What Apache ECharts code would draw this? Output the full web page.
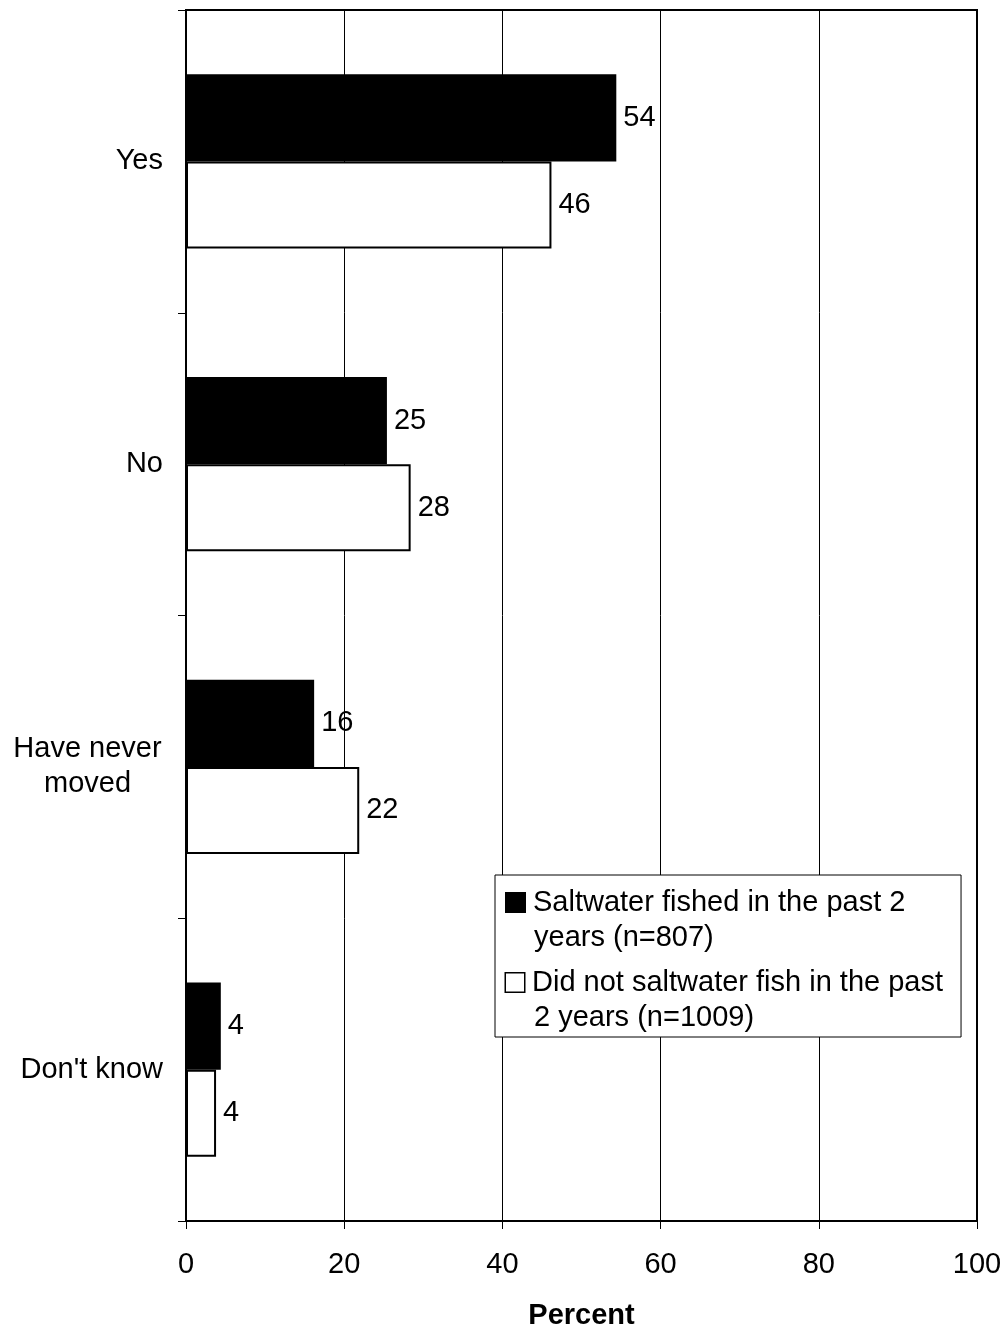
<!DOCTYPE html>
<html><head><meta charset="utf-8">
<script src="https://cdn.jsdelivr.net/npm/echarts@6/dist/echarts.min.js"></script>
<style>html,body{margin:0;padding:0;background:#fff}#c{width:1008px;height:1330px}</style>
</head><body><div id="c"></div>
<script>
const categories = ["Yes", "No", "Have never moved", "Don't know"];
const fishedValues = [54.4, 25.4, 16.2, 4.4];
const notFishedValues = [46.2, 28.4, 21.9, 3.8];
const seriesNames = ["Saltwater fished in the past 2 years (n=807)", "Did not saltwater fish in the past 2 years (n=1009)"];
const xTicks = [0, 20, 40, 60, 80, 100];
const FONT = '"Liberation Sans", Arial, sans-serif';
const FS = 29;

const chart = echarts.init(document.getElementById('c'), null, {renderer: 'canvas'});
chart.setOption({
  animation: false,
  backgroundColor: '#fff',
  textStyle: {fontFamily: FONT},
  grid: {left: 186, top: 10, right: 31, bottom: 109, containLabel: false, outerBoundsMode: 'none',
    show: true, borderColor: '#000', borderWidth: 2, backgroundColor: 'transparent'},
  legend: {
    left: 495, top: 875,
    orient: 'vertical',
    backgroundColor: '#fff', borderColor: '#000', borderWidth: 1,
    padding: [10, 18, 2, 5],
    itemWidth: 0, itemHeight: 0, itemGap: 10,
    icon: 'rect',
    formatter: function (name) {
      if (name === seriesNames[0]) return '{bk|}{g|}{t|Saltwater fished in the past 2}\n{sp|}{t|years (n=807)}';
      return '{wh|}{g|}{t|Did not saltwater fish in the past}\n{sp|}{t|2 years (n=1009)}';
    },
    textStyle: {
      fontFamily: FONT, fontSize: FS, color: '#000', lineHeight: 35,
      rich: {
        t: {fontFamily: FONT, fontSize: FS, color: '#000', lineHeight: 35},
        bk: {width: 19, height: 19, backgroundColor: '#000', borderColor: '#000', borderWidth: 1, lineHeight: 35},
        wh: {width: 18, height: 18, backgroundColor: '#fff', borderColor: '#000', borderWidth: 1.5, lineHeight: 35},
        g: {width: 8, lineHeight: 35},
        sp: {width: 28, lineHeight: 35}
      }
    },
    data: seriesNames
  },
  xAxis: {
    type: 'value', min: 0, max: 100, interval: 20,
    axisLine: {show: true, lineStyle: {color: '#000', width: 2}},
    axisTick: {show: true, length: 8, lineStyle: {color: '#000', width: 1}},
    splitLine: {show: true, lineStyle: {color: '#000', width: 1}},
    axisLabel: {fontFamily: FONT, fontSize: FS, color: '#000', margin: 29,
      formatter: v => xTicks.includes(v) ? String(v) : ''},
    name: 'Percent', nameLocation: 'middle', nameGap: 80,
    nameTextStyle: {fontFamily: FONT, fontSize: FS, fontWeight: 'bold', color: '#000'}
  },
  yAxis: {
    type: 'category', data: categories, inverse: true,
    axisLine: {show: true, lineStyle: {color: '#000', width: 2}},
    axisTick: {show: true, length: 8, lineStyle: {color: '#000', width: 1}},
    axisLabel: {fontFamily: FONT, fontSize: FS, color: '#000', margin: 23, lineHeight: 35,
      formatter: v => v === 'Have never moved' ? '{c|Have never}\n{c|moved}' : v,
      rich: {c: {fontFamily: FONT, fontSize: FS, color: '#000', width: 151, align: 'center', lineHeight: 35}}}
  },
  series: [
    {
      name: seriesNames[0], type: 'bar', data: fishedValues,
      barGap: 0, barCategoryGap: '42.5%',
      itemStyle: {color: '#000', borderColor: '#000', borderWidth: 1.5},
      label: {show: true, position: 'right', distance: 7, fontFamily: FONT, fontSize: FS, color: '#000',
        formatter: p => String(Math.round(p.value))}
    },
    {
      name: seriesNames[1], type: 'bar', data: notFishedValues,
      barGap: 0, barCategoryGap: '42.5%',
      itemStyle: {color: '#fff', borderColor: '#000', borderWidth: 2},
      label: {show: true, position: 'right', distance: 7, fontFamily: FONT, fontSize: FS, color: '#000',
        formatter: p => String(Math.round(p.value))}
    }
  ]
});
</script></body></html>
